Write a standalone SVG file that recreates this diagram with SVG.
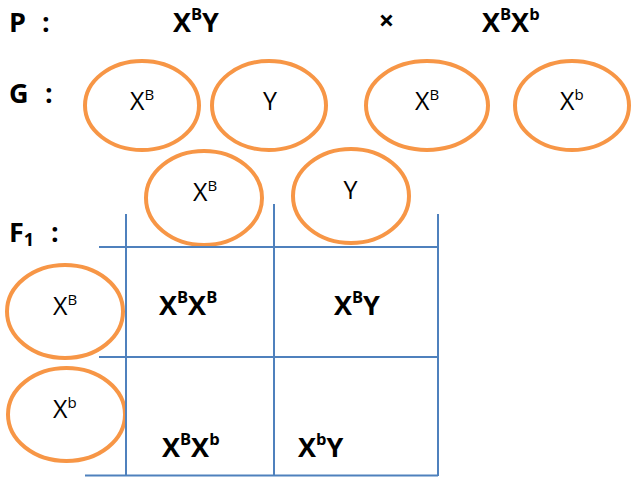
<svg xmlns="http://www.w3.org/2000/svg" width="632" height="478" viewBox="0 0 632 478">
<style>
.b{font-family:"Open Sans","Liberation Sans",sans-serif;font-weight:bold;font-size:27px;fill:#000}
.r{font-family:"Open Sans","Liberation Sans",sans-serif;font-size:25px;fill:#000}
.sb{font-size:16.5px}
.sr{font-size:15px}
.g{fill:none;stroke:#F79646;stroke-width:4}
.ln{stroke:#4F81BD;stroke-width:2;fill:none}
</style>
<rect width="632" height="478" fill="#fff"/>
<g id="labels">
<text class="b" x="9" y="32">P</text><text class="b" x="42" y="32">:</text>
<text class="b" x="9" y="103">G</text><text class="b" x="45" y="103">:</text>
<text class="b" x="9" y="242">F<tspan font-size="18" dy="4">1</tspan></text><text class="b" x="51" y="242">:</text>
</g>
<g id="parents">
<text class="b" x="173" y="32">X<tspan class="sb" dy="-12">B</tspan><tspan dy="12">Y</tspan></text>
<text class="b" x="386.5" y="30" text-anchor="middle" font-size="24">×</text>
<text class="b" x="482" y="32">X<tspan class="sb" dy="-12">B</tspan><tspan dy="12">X</tspan><tspan class="sb" dy="-12">b</tspan></text>
</g>
<g id="g1"><ellipse class="g" cx="142" cy="105.5" rx="57" ry="44.5"/><text class="r" x="130" y="110">X<tspan class="sr" dy="-10">B</tspan></text></g>
<g id="g2"><ellipse class="g" cx="269" cy="105.5" rx="57" ry="44.5"/><text class="r" x="270" y="110" text-anchor="middle">Y</text></g>
<g id="g3"><ellipse class="g" cx="427" cy="105.5" rx="61" ry="44.5"/><text class="r" x="415" y="110">X<tspan class="sr" dy="-10">B</tspan></text></g>
<g id="g4"><ellipse class="g" cx="572" cy="105.5" rx="57" ry="44.5"/><text class="r" x="560" y="110">X<tspan class="sr" dy="-10">b</tspan></text></g>
<g id="m1"><ellipse class="g" cx="204" cy="198" rx="58" ry="47"/><text class="r" x="193" y="201">X<tspan class="sr" dy="-10">B</tspan></text></g>
<g id="m2"><ellipse class="g" cx="351" cy="196" rx="58" ry="47"/><text class="r" x="350.5" y="199" text-anchor="middle">Y</text></g>
<g id="f1"><ellipse class="g" cx="65" cy="311.5" rx="58" ry="46.5"/><text class="r" x="53" y="315">X<tspan class="sr" dy="-10">B</tspan></text></g>
<g id="f2"><ellipse class="g" cx="66.5" cy="414.5" rx="58.5" ry="46.5"/><text class="r" x="53" y="418">X<tspan class="sr" dy="-10">b</tspan></text></g>
<g id="grid">
<line class="ln" x1="126" y1="214" x2="126" y2="476"/>
<line class="ln" x1="274" y1="204" x2="274" y2="476"/>
<line class="ln" x1="438" y1="214" x2="438" y2="476"/>
<line class="ln" x1="99" y1="247" x2="438" y2="247"/>
<line class="ln" x1="99" y1="357" x2="438" y2="357"/>
<line class="ln" x1="85" y1="475.5" x2="438" y2="475.5"/>
</g>
<g id="cells">
<text class="b" x="159" y="315">X<tspan class="sb" dy="-12">B</tspan><tspan dy="12">X</tspan><tspan class="sb" dy="-12">B</tspan></text>
<text class="b" x="334" y="315">X<tspan class="sb" dy="-12">B</tspan><tspan dy="12">Y</tspan></text>
<text class="b" x="162" y="457">X<tspan class="sb" dy="-12">B</tspan><tspan dy="12">X</tspan><tspan class="sb" dy="-12">b</tspan></text>
<text class="b" x="298" y="457">X<tspan class="sb" dy="-12">b</tspan><tspan dy="12">Y</tspan></text>
</g>
</svg>
